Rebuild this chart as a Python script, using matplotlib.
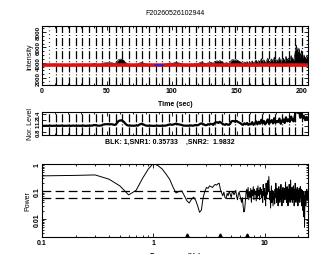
import numpy as np
import matplotlib
matplotlib.use('Agg')
import matplotlib.pyplot as plt
from matplotlib.ticker import FixedLocator, MultipleLocator, NullFormatter

plt.rcParams['font.family'] = ['Liberation Sans', 'DejaVu Sans']
plt.rcParams['font.size'] = 5
plt.rcParams['font.weight'] = 'bold'

# ---------------- data ----------------
title_text = "F20260526102944"
snr_text = "BLK: 1,SNR1: 0.35733    ,SNR2:  1.9832"

time_sec = list(range(0, 206))
intensity = [
    3780, 3800, 3790, 3810, 3800, 3790, 3820, 3800, 3790, 3810,
    3800, 3820, 3790, 3810, 3800, 3830, 3800, 3790, 3810, 3800,
    3820, 3800, 3790, 3810, 3830, 3800, 3810, 3790, 3820, 3800,
    3810, 3800, 3830, 3800, 3790, 3820, 3810, 3800, 3830, 3820,
    3900, 3880, 3850, 3820, 3810, 3830, 3850, 3950, 3980, 4000,
    3990, 4010, 3980, 4000, 3990, 3950, 3900, 4000, 4200, 4400,
    4450, 4480, 4420, 4300, 4100, 3950, 3850, 3820, 3830, 3810,
    3820, 3800, 3830, 3850, 3820, 3950, 4000, 4050, 3980, 3900,
    3830, 3810, 3800, 3820, 3810, 3800, 3790, 3800, 3810, 3820,
    3800, 3790, 3810, 3800, 3820, 3810, 3850, 3900, 3950, 3980,
    3920, 3950, 4000, 4050, 4020, 3990, 3960, 3930, 3880, 3830,
    3820, 3810, 3830, 3800, 3820, 3850, 3810, 3830, 3900, 3850,
    3880, 3950, 4050, 4100, 4020, 3940, 3870, 3900, 4000, 3950,
    4050, 4000, 3920, 4150, 4200, 4250, 4150, 4300, 4180, 4050,
    3980, 3920, 4020, 3960, 3920, 4050, 4350, 4400, 4380, 4300,
    4400, 4280, 4200, 4100, 3980, 3920, 4100, 3980, 4150, 3920,
    4050, 3980, 4250, 3920, 4100, 4350, 3980, 4300, 4050, 4550,
    4100, 4400, 3980, 4250, 4600, 4050, 4300, 4500, 4100, 4750,
    4150, 4400, 4250, 4700, 4050, 4450, 4600, 4150, 4850, 4350,
    4600, 4300, 4950, 4500, 4350, 5200, 6300, 5400, 5900, 4800,
    5600, 4700, 5000, 4500, 4900, 4600,
]
ref_level = 3800

trend_time = list(range(0, 206, 5))
trend_vals = [
    3700, 3705, 3710, 3700, 3695, 3700, 3710, 3705, 3700, 3695,
    3700, 3705, 3710, 3700, 3690, 3700, 3705, 3700, 3695, 3700,
    3705, 3710, 3700, 3695, 3700, 3705, 3710, 3700, 3695, 3700,
    3705, 3700, 3695, 3700, 3710, 3705, 3700, 3695, 3700, 3705,
    3700, 3700,
]
blue_time = [87, 93]
blue_vals = [3680, 3680]

block_times = [5.5, 10.6, 15.7, 20.9, 26.0, 31.1, 36.3, 41.4, 46.5, 51.7,
               56.8, 61.9, 67.0, 72.2, 77.3, 82.4, 87.6, 92.7, 97.8, 103.0,
               108.1, 113.2, 118.4, 123.5, 128.6, 133.7, 138.9, 144.0, 149.1,
               154.3, 159.4, 164.5, 169.7, 174.8, 179.9, 185.1, 190.2, 195.3,
               200.4]

freq = np.round(np.arange(1, 246) * 0.1, 1)
power = [
    0.37, 0.385, 0.40, 0.28, 0.16, 0.075, 0.11, 0.30, 0.65, 1.05,
    0.87, 0.66, 0.43, 0.28, 0.146, 0.088, 0.10, 0.105, 0.07, 0.046,
    0.038, 0.052, 0.062, 0.048, 0.03, 0.0175, 0.021, 0.06, 0.10, 0.14,
    0.13, 0.16, 0.15, 0.14, 0.165, 0.18, 0.17, 0.19, 0.20, 0.12,
    0.09, 0.07, 0.095, 0.06, 0.055, 0.085, 0.07, 0.10, 0.08, 0.06,
    0.09, 0.10, 0.075, 0.09, 0.11, 0.065, 0.05, 0.08, 0.095, 0.07,
    0.05, 0.04, 0.06, 0.03, 0.018, 0.02, 0.045, 0.09, 0.12, 0.06,
    0.14, 0.05, 0.10, 0.06, 0.13, 0.04, 0.11, 0.07, 0.15, 0.05,
    0.12, 0.08, 0.10, 0.045, 0.13, 0.06, 0.16, 0.07, 0.11, 0.05,
    0.14, 0.08, 0.12, 0.06, 0.10, 0.04, 0.18, 0.07, 0.13, 0.05,
    0.09, 0.03, 0.20, 0.06, 0.15, 0.08, 0.25, 0.10, 0.35, 0.12,
    0.05, 0.09, 0.025, 0.07, 0.16, 0.04, 0.11, 0.06, 0.03, 0.10,
    0.05, 0.08, 0.035, 0.12, 0.06, 0.20, 0.07, 0.04, 0.13, 0.05,
    0.09, 0.03, 0.07, 0.15, 0.06, 0.10, 0.04, 0.12, 0.07, 0.18,
    0.05, 0.09, 0.03, 0.11, 0.06, 0.14, 0.08, 0.04, 0.10, 0.06,
    0.13, 0.05, 0.09, 0.22, 0.07, 0.11, 0.04, 0.08, 0.15, 0.06,
    0.10, 0.03, 0.08, 0.12, 0.05, 0.18, 0.07, 0.10, 0.04, 0.09,
    0.26, 0.06, 0.12, 0.05, 0.09, 0.14, 0.04, 0.08, 0.11, 0.05,
    0.16, 0.07, 0.10, 0.03, 0.08, 0.12, 0.06, 0.20, 0.05, 0.09,
    0.04, 0.12, 0.07, 0.10, 0.05, 0.14, 0.06, 0.09, 0.03, 0.08,
    0.11, 0.05, 0.09, 0.13, 0.06, 0.10, 0.04, 0.08, 0.15, 0.06,
    0.10, 0.07, 0.12, 0.05, 0.09, 0.03, 0.07, 0.11, 0.05, 0.08,
    0.02, 0.06, 0.10, 0.04, 0.012, 0.03, 0.07, 0.005, 0.02, 0.06,
    0.10, 0.04, 0.08, 0.03, 0.06, 0.10, 0.05, 0.08, 0.12, 0.06,
    0.09, 0.05, 0.08, 0.07, 0.09,
]
thresholds = [0.1, 0.056]
marker_freqs = [2.0, 4.0, 7.0]

# ---------------- figure ----------------
W, H = 315, 255
fig = plt.figure(figsize=(W / 100, H / 100), dpi=100)


def rect(x0, y0, x1, y1):
    return [x0 / W, 1 - y1 / H, (x1 - x0) / W, (y1 - y0) / H]


def style(ax, ylab_size=5):
    ax.tick_params(which='both', direction='in', top=True, right=True,
                   labelsize=5, pad=1.5, width=0.6)
    ax.tick_params(axis='y', labelsize=ylab_size, pad=1.0)
    ax.tick_params(which='major', length=3)
    ax.tick_params(which='minor', length=1.5)
    for s in ax.spines.values():
        s.set_linewidth(0.8)


dashdot = (0, (6.5, 1.6, 0.8, 1.6))

# top panel
ax1 = fig.add_axes(rect(42, 27, 308, 86))
t = np.array(time_sec)
I = np.array(intensity)
ax1.fill_between(t, ref_level - 100, I, color='black', lw=0)
ax1.plot(t, I, color='black', lw=0.5)
for i, bt in enumerate(block_times):
    ax1.axvline(bt, color='black', lw=0.9,
                ls=(0, (0.6, 2.5)) if i == 0 else dashdot)
ax1.plot(trend_time, trend_vals, color='#e01010', lw=2.6)
ax1.plot(blue_time, blue_vals, color='#2020e0', lw=1.2)
ax1.set_xlim(0, 205)
ax1.set_ylim(1100, 8800)
ax1.xaxis.set_major_locator(FixedLocator([0, 50, 100, 150, 200]))
ax1.xaxis.set_minor_locator(MultipleLocator(10))
ax1.yaxis.set_major_locator(FixedLocator([2000, 4000, 6000, 8000]))
ax1.yaxis.set_minor_locator(MultipleLocator(500))
style(ax1, ylab_size=4.5)
for lab in ax1.get_yticklabels():
    lab.set_rotation(90)
    lab.set_va('center')
ax1.set_ylabel('Intensity', fontsize=5, labelpad=1.5)
ax1.set_title(title_text, fontsize=5, pad=9)
fig.text(175 / W, 1 - 105 / H, 'Time (sec)', ha='center', va='center', fontsize=5)

# middle panel
ax2 = fig.add_axes(rect(42, 113, 308, 136))
nor = I / ref_level
for bt in block_times:
    ax2.axvline(bt, color='black', lw=0.9, ls=dashdot)
ax2.plot(t, nor, color='black', lw=1.6)
ax2.set_xlim(0, 205)
ax2.set_ylim(0.7, 1.45)
ax2.xaxis.set_major_locator(FixedLocator([0, 50, 100, 150, 200]))
ax2.xaxis.set_minor_locator(MultipleLocator(10))
ax2.xaxis.set_major_formatter(NullFormatter())
ax2.yaxis.set_major_locator(FixedLocator([0.8, 1.0, 1.2, 1.4]))
ax2.set_yticklabels(['0.8', '1', '1.2', '1.4'])
style(ax2, ylab_size=4.3)
for lab in ax2.get_yticklabels():
    lab.set_rotation(90)
    lab.set_va('center')
ax2.set_ylabel('Nor. Level', fontsize=5, labelpad=1.5)
fig.text(170 / W, 1 - 142 / H, snr_text, ha='center', va='center', fontsize=5)

# bottom panel
ax3 = fig.add_axes(rect(42, 165, 308, 238))
ax3.plot(freq, power, color='black', lw=0.7)
for th in thresholds:
    ax3.axhline(th, color='black', lw=0.9, ls=(0, (7, 3.5)))
ax3.set_xscale('log')
ax3.set_yscale('log')
ax3.set_xlim(0.1, 24.5)
ax3.set_ylim(0.0022, 1.0)
ax3.plot(marker_freqs, [0.0026] * len(marker_freqs), ls='none', marker='^',
         ms=2.2, color='black', clip_on=False)
ax3.xaxis.set_major_locator(FixedLocator([0.1, 1, 10]))
ax3.set_xticklabels(['0.1', '1', '10'])
ax3.xaxis.set_minor_locator(FixedLocator(
    [0.2, 0.3, 0.4, 0.5, 0.6, 0.7, 0.8, 0.9, 2, 3, 4, 5, 6, 7, 8, 9, 20]))
ax3.xaxis.set_minor_formatter(NullFormatter())
ax3.yaxis.set_major_locator(FixedLocator([0.01, 0.1, 1]))
ax3.set_yticklabels(['0.01', '0.1', '1'])
ax3.yaxis.set_minor_locator(FixedLocator(
    [0.003, 0.004, 0.005, 0.006, 0.007, 0.008, 0.009,
     0.02, 0.03, 0.04, 0.05, 0.06, 0.07, 0.08, 0.09,
     0.2, 0.3, 0.4, 0.5, 0.6, 0.7, 0.8, 0.9]))
ax3.yaxis.set_minor_formatter(NullFormatter())
style(ax3)
for lab in ax3.get_yticklabels():
    lab.set_rotation(90)
    lab.set_va('center')
ax3.set_ylabel('Power', fontsize=5, labelpad=1.5)
fig.text(175 / W, 2.5 / H, 'Frequency (Hz)', ha='center', va='top', fontsize=5)

fig.savefig('out.png', dpi=100)
